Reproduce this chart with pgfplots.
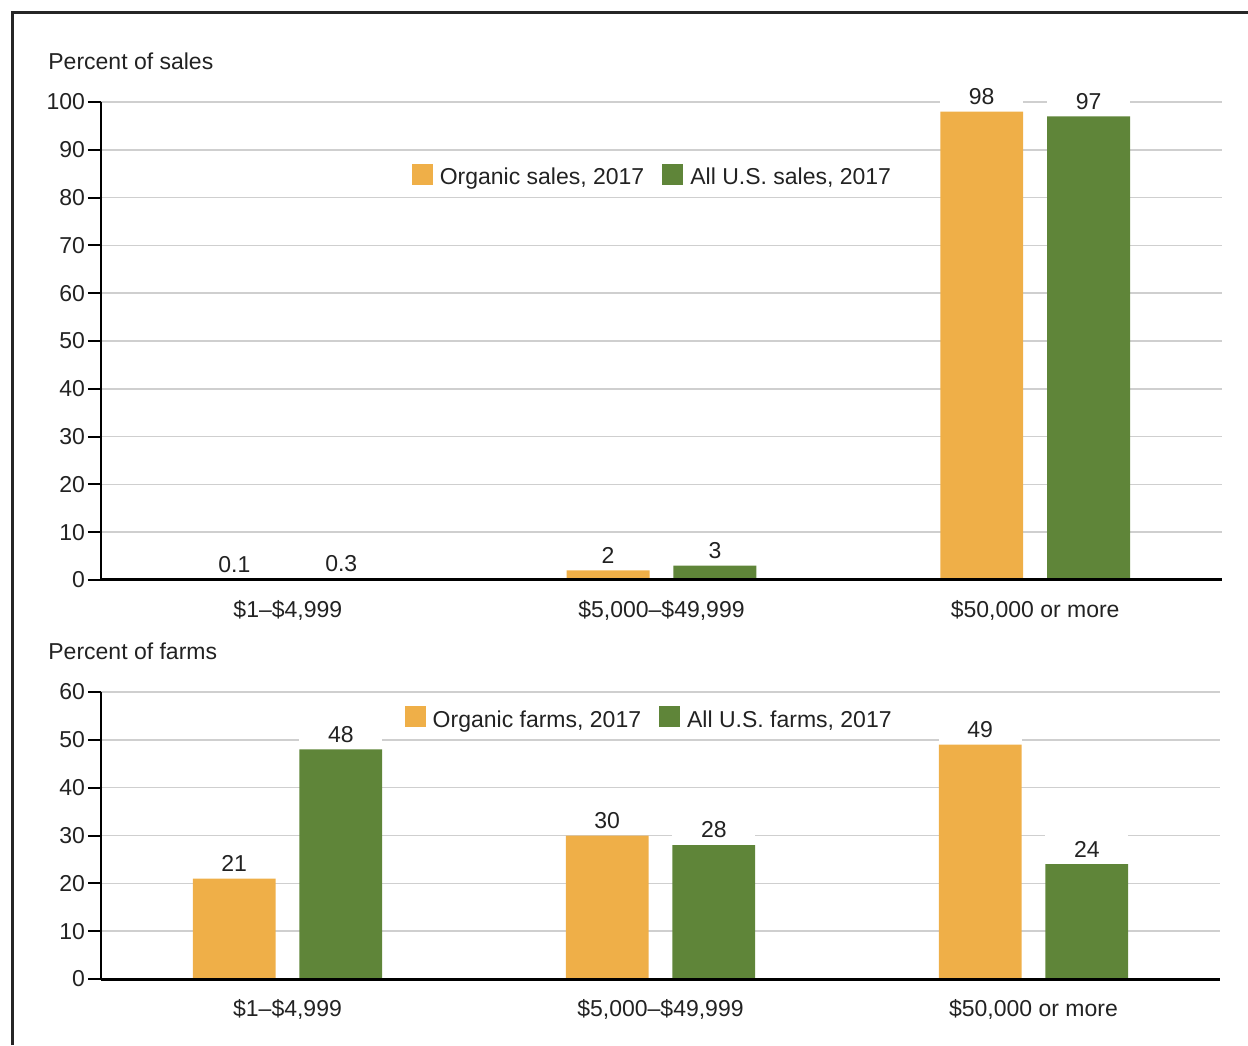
\documentclass[border=0pt]{standalone}
\usepackage{fontspec}
\setmainfont{Liberation Sans}
\usepackage{pgfplots}
\pgfplotsset{compat=1.18}

\definecolor{orgcol}{HTML}{EFAF48}
\definecolor{allcol}{HTML}{5F8539}
\definecolor{txt}{HTML}{222222}
\definecolor{gridc}{HTML}{CFCFCF}
\newcommand\cf{\fontsize{11.5}{13.8}\selectfont}

\pgfplotsset{
  salesbase/.style={
    scale only axis,
    anchor=south west,
    xmin=-0.5, xmax=2.5, ymin=0,
    axis x line*=bottom, axis y line*=left,
    x axis line style={line width=1.5pt, black},
    y axis line style={line width=1pt, black},
    xtick={0,1,2},
    xticklabels={{\$1–\$4,999},{\$5,000–\$49,999},{\$50,000 or more}},
    xtick style={draw=none},
    ytick style={line width=1pt, black},
    major tick length=6.5pt,
    tick align=outside,
    /pgf/number format/assume math mode=true,
    tick label style={font=\cf, text=txt},
    xticklabel style={yshift=0pt},
    yticklabel style={xshift=2pt},
    ymajorgrids,
    major grid style={gridc, line width=0.75pt},
    ybar, bar width=0.222,
    nodes near coords,
    every node near coord/.append style={font=\cf, text=txt, fill=white,
      inner xsep=0pt, inner ysep=3.3pt, minimum width=41.5pt},
    legend columns=2,
    legend style={draw=none, fill=none, anchor=center, font=\cf, text=txt,
      nodes={inner sep=0pt},
      /tikz/every odd column/.append style={column sep=3.5pt},
      /tikz/every even column/.append style={column sep=9pt}},
  },
  orgbar/.style={fill=orgcol, draw=none, bar shift=-0.143,
    legend image code/.code={\fill[orgcol] (0pt,-3.5pt) rectangle (10.5pt,7pt);}},
  allbar/.style={fill=allcol, draw=none, bar shift=0.143,
    legend image code/.code={\fill[allcol] (0pt,-3.5pt) rectangle (10.5pt,7pt);}},
}

\begin{document}
\begin{tikzpicture}
\useasboundingbox (0,0) rectangle (624pt,522.5pt);
% frame of the figure box
\draw[line width=1.5pt, black!85] (6.25pt,0) -- (6.25pt,516.3pt) -- (624pt,516.3pt);

% share of sales by sales class
\node[anchor=base west, inner sep=0pt, font=\cf, text=txt] at (24pt,487.5pt) {Percent of sales};
\begin{axis}[salesbase, at={(50.5pt,232.5pt)}, width=560.5pt, height=239pt,
    ymax=100, ytick={0,10,...,100},
    legend style={at={(0.491,0.846)}}]
\addplot[orgbar] coordinates {(0,0.1) (1,2) (2,98)};
\addlegendentry{Organic sales, 2017}
\addplot[allbar] coordinates {(0,0.3) (1,3) (2,97)};
\addlegendentry{All U.S. sales, 2017}
\end{axis}
% baseline redrawn over the value boxes
\draw[line width=1.5pt, black] (50.5pt,232.5pt) -- (611pt,232.5pt);

% share of farms by sales class
\node[anchor=base west, inner sep=0pt, font=\cf, text=txt] at (24pt,192.5pt) {Percent of farms};
\begin{axis}[salesbase, at={(50.5pt,33pt)}, width=559.5pt, height=143.5pt,
    ymax=60, ytick={0,10,...,60},
    legend style={at={(0.489,0.909)}}]
\addplot[orgbar] coordinates {(0,21) (1,30) (2,49)};
\addlegendentry{Organic farms, 2017}
\addplot[allbar] coordinates {(0,48) (1,28) (2,24)};
\addlegendentry{All U.S. farms, 2017}
\end{axis}
\draw[line width=1.5pt, black] (50.5pt,33pt) -- (610pt,33pt);
\end{tikzpicture}
\end{document}
